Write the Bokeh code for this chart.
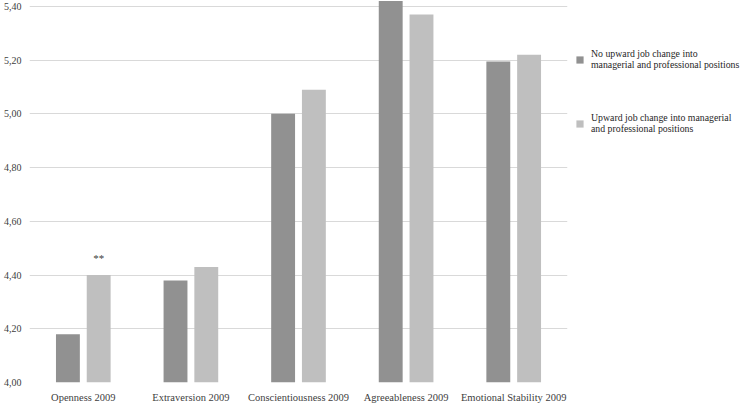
from bokeh.plotting import figure
from bokeh.models import ColumnDataSource, FactorRange, Range1d, FixedTicker, CustomJSTickFormatter, Legend, LegendItem
from bokeh.transform import dodge
from bokeh.core.properties import value
from bokeh.embed import file_html
from bokeh.resources import INLINE

categories = ["Openness 2009", "Extraversion 2009", "Conscientiousness 2009",
              "Agreeableness 2009", "Emotional Stability 2009"]
no_upward = [4.18, 4.38, 5.00, 5.42, 5.195]
upward = [4.40, 4.43, 5.09, 5.37, 5.22]
series_names = ["No upward job change into\nmanagerial and professional positions",
                "Upward job change into managerial\nand professional positions"]
y_ticks = [4.0, 4.2, 4.4, 4.6, 4.8, 5.0, 5.2, 5.4]
sig_category = ["Openness 2009"]
sig_value = [4.465]
sig_text = ["**"]

src = ColumnDataSource(dict(cat=categories, a=no_upward, b=upward))
sig = ColumnDataSource(dict(cat=sig_category, y=sig_value, t=sig_text))

FH = 382
p = figure(frame_width=538, frame_height=FH, x_range=FactorRange(*categories, range_padding=0),
           y_range=Range1d(4.0, 5.422), output_backend="svg", toolbar_location=None,
           min_border_left=18, min_border_right=0, min_border_top=0, min_border_bottom=0)
p.outline_line_color = None

ra = p.vbar(x=dodge("cat", -0.143, range=p.x_range), top="a", bottom=4.0, width=0.222,
            source=src, fill_color="#919191", line_color=None)
rb = p.vbar(x=dodge("cat", 0.143, range=p.x_range), top="b", bottom=4.0, width=0.222,
            source=src, fill_color="#bfbfbf", line_color=None)
p.text(x=dodge("cat", 0.143, range=p.x_range), y="y", text="t", source=sig,
       text_align="center", text_baseline="middle", text_font=value("Liberation Serif"),
       text_font_size="11px", text_color="#404040")

p.xgrid.grid_line_color = None
p.ygrid.grid_line_color = "#d9d9d9"
p.ygrid.ticker = FixedTicker(ticks=y_ticks)

p.yaxis.ticker = FixedTicker(ticks=y_ticks)
p.yaxis.formatter = CustomJSTickFormatter(code="return tick.toFixed(2).replace('.', ',')")
for ax in (p.xaxis, p.yaxis):
    ax.axis_line_color = None
    ax.major_tick_line_color = None
    ax.minor_tick_line_color = None
    ax.major_label_text_font = "Liberation Serif"
    ax.major_label_text_color = "#404040"
p.yaxis.major_label_text_font_size = "10px"
p.yaxis.major_label_standoff = 2
p.xaxis.major_label_text_font_size = "10.5px"
p.xaxis.major_label_standoff = 3

legend = Legend(items=[LegendItem(label=series_names[0], renderers=[ra]),
                       LegendItem(label=series_names[1], renderers=[rb])],
                location=(8, FH - 40 - 94), glyph_width=9, glyph_height=9, spacing=42,
                label_text_font="Liberation Serif", label_text_font_size="9.8px",
                label_text_color="#262626", border_line_color=None, background_fill_alpha=0,
                label_standoff=7, padding=0, margin=0)
p.add_layout(legend, "right")

open("out.html", "w").write(file_html(p, INLINE))
